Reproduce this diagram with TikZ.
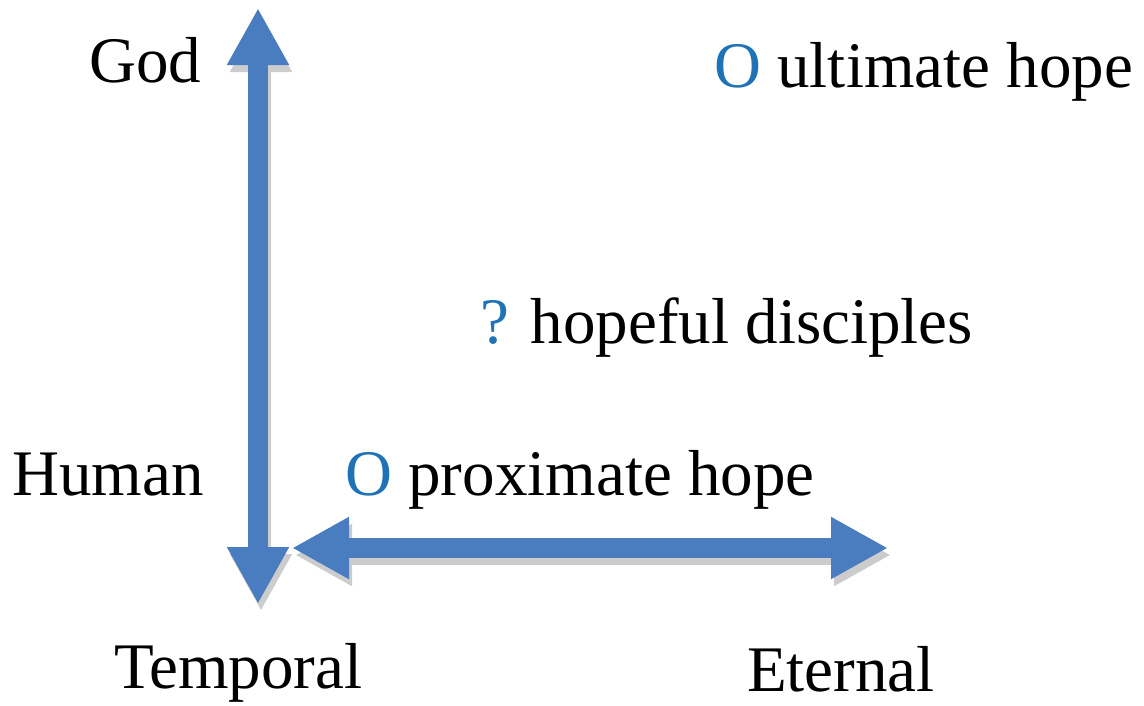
\documentclass[tikz,border=0pt]{standalone}
\usepackage{fontspec}
\setmainfont{Liberation Serif}
\usepackage{tikz}
\usetikzlibrary{positioning, arrows.meta, calc}

\definecolor{axisblue}{HTML}{4A7DBF}
\definecolor{markblue}{HTML}{1F72B6}
\definecolor{shadowgray}{HTML}{CCCCCC}

\begin{document}
\begin{tikzpicture}[
    x=1pt, y=-1pt,
    axisarrow/.style={{Triangle[length=57pt, width=58pt]}-{Triangle[length=57pt, width=58pt]}, line width=20pt, axisblue},
    axisshadow/.style={axisarrow, shadowgray},
    lbl/.style={inner sep=0pt, anchor=base west, font=\fontsize{65}{78}\selectfont},
]
\useasboundingbox (0,0) rectangle (1144,705);

% axis end points
\coordinate (vtop) at (258,8);
\coordinate (vbot) at (258,604);
\coordinate (hleft) at (292,548);
\coordinate (hright) at (888,548);

% shadows first
\draw[axisshadow] ([shift={(3,7)}]vbot) -- ([shift={(3,7)}]vtop);
\draw[axisshadow] ([shift={(3,7)}]hleft) -- ([shift={(3,7)}]hright);

\draw[axisarrow] (vbot) -- (vtop);
\draw[axisarrow] (hleft) -- (hright);

% axis labels
\node[lbl] (god) at (89,82) {God};
\node[lbl] (human) at (12,495) {Human};
\node[lbl] (temporal) at (114,688) {Temporal};
\node[lbl] (eternal) at (747,691) {Eternal};

% points in the plane
\node[lbl] (ultimate) at (714,87) {\textcolor{markblue}{O} ultimate hope};
\node[lbl] (disciples) at (480,343) {\textcolor{markblue}{?} hopeful disciples};
\node[lbl] (proximate) at (345,495) {\textcolor{markblue}{O} proximate hope};

\end{tikzpicture}
\end{document}
